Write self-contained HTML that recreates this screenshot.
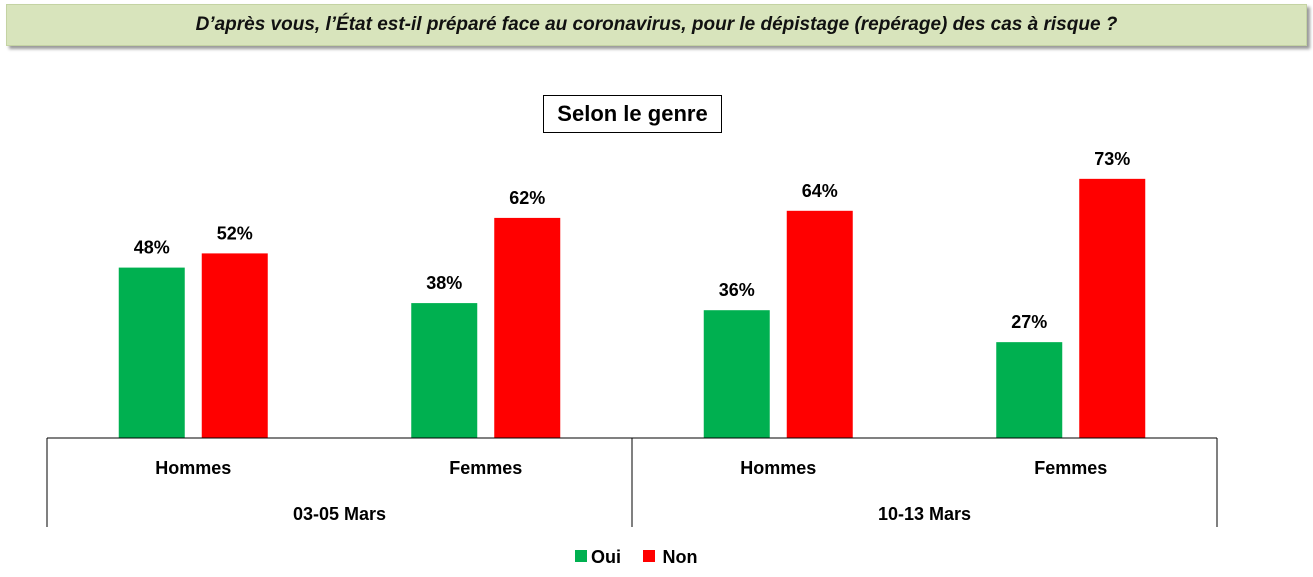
<!DOCTYPE html>
<html><head><meta charset="utf-8">
<style>
body{margin:0;width:1313px;height:577px;background:#fff;font-family:"Liberation Sans",sans-serif;position:relative;overflow:hidden}
#title{position:absolute;left:6px;top:4px;width:1299px;height:40px;background:#d8e4bc;border:1px solid #c4d3a3;box-shadow:3px 3px 3px #999;font-style:italic;font-weight:bold;font-size:19px;line-height:40px;text-align:center;color:#111}
#sub{position:absolute;left:543px;top:95px;width:177px;height:36px;border:1px solid #000;font-weight:bold;font-size:22px;line-height:36px;text-align:center;background:#fff}
svg{position:absolute;left:0;top:0}
</style></head><body>
<div id="title">D’après vous, l’État est-il préparé face au coronavirus, pour le dépistage (repérage) des cas à risque ?</div>
<div id="sub">Selon le genre</div>
<svg id="chart" width="1313" height="577"></svg>
<script>
const categories=["Hommes","Femmes","Hommes","Femmes"];
const groups=["03-05 Mars","10-13 Mars"];
const oui=[48,38,36,27];
const non=[52,62,64,73];
const NS="http://www.w3.org/2000/svg";
const svg=document.getElementById("chart");
const x0=47,x1=1217,base=438,ppu=3.55;
const catW=(x1-x0)/categories.length;
function yScale(v){return base-v*ppu;}
function catCenter(i){return x0+catW*(i+0.5);}
function mk(tag,attrs,name){const e=document.createElementNS(NS,tag);for(const k in attrs)e.setAttribute(k,attrs[k]);


svg.appendChild(e);return e;}
function txt(x,y,s,name,size){const t=mk("text",{x:x,y:y,"text-anchor":"middle","font-size":size||18,"font-weight":"bold","font-family":"Liberation Sans, sans-serif",fill:"#000"},name);t.textContent=s;return t;}
const bw=66,gap=17;
categories.forEach((c,i)=>{
 const cx=catCenter(i);
 const xo=cx-gap/2-bw, xn=cx+gap/2;
 mk("rect",{x:xo,y:yScale(oui[i]),width:bw,height:base-yScale(oui[i]),fill:"#00b050"},"bar-oui-"+i);
 mk("rect",{x:xn,y:yScale(non[i]),width:bw,height:base-yScale(non[i]),fill:"#ff0000"},"bar-non-"+i);
 txt(xo+bw/2,yScale(oui[i])-14,oui[i]+"%","label-oui-"+i);
 txt(xn+bw/2,yScale(non[i])-14,non[i]+"%","label-non-"+i);
 txt(cx,474,c,"category-label-"+i);
});
mk("line",{x1:x0,y1:base,x2:x1,y2:base,stroke:"#000","stroke-width":1},"x-axis");
[0,1,2].forEach(j=>{const x=x0+j*(x1-x0)/2;mk("line",{x1:x,y1:base,x2:x,y2:527,stroke:"#000","stroke-width":1},"axis-divider-"+j);});
groups.forEach((g,j)=>txt(x0+(j+0.5)*(x1-x0)/2,520,g,"group-label-"+j));
mk("rect",{x:575,y:550,width:12,height:12,fill:"#00b050"},"legend-oui-swatch");
const l1=txt(606,563,"Oui","legend-oui-label");
mk("rect",{x:643,y:550,width:12,height:12,fill:"#ff0000"},"legend-non-swatch");
txt(680,563,"Non","legend-non-label");
</script>
</body></html>
